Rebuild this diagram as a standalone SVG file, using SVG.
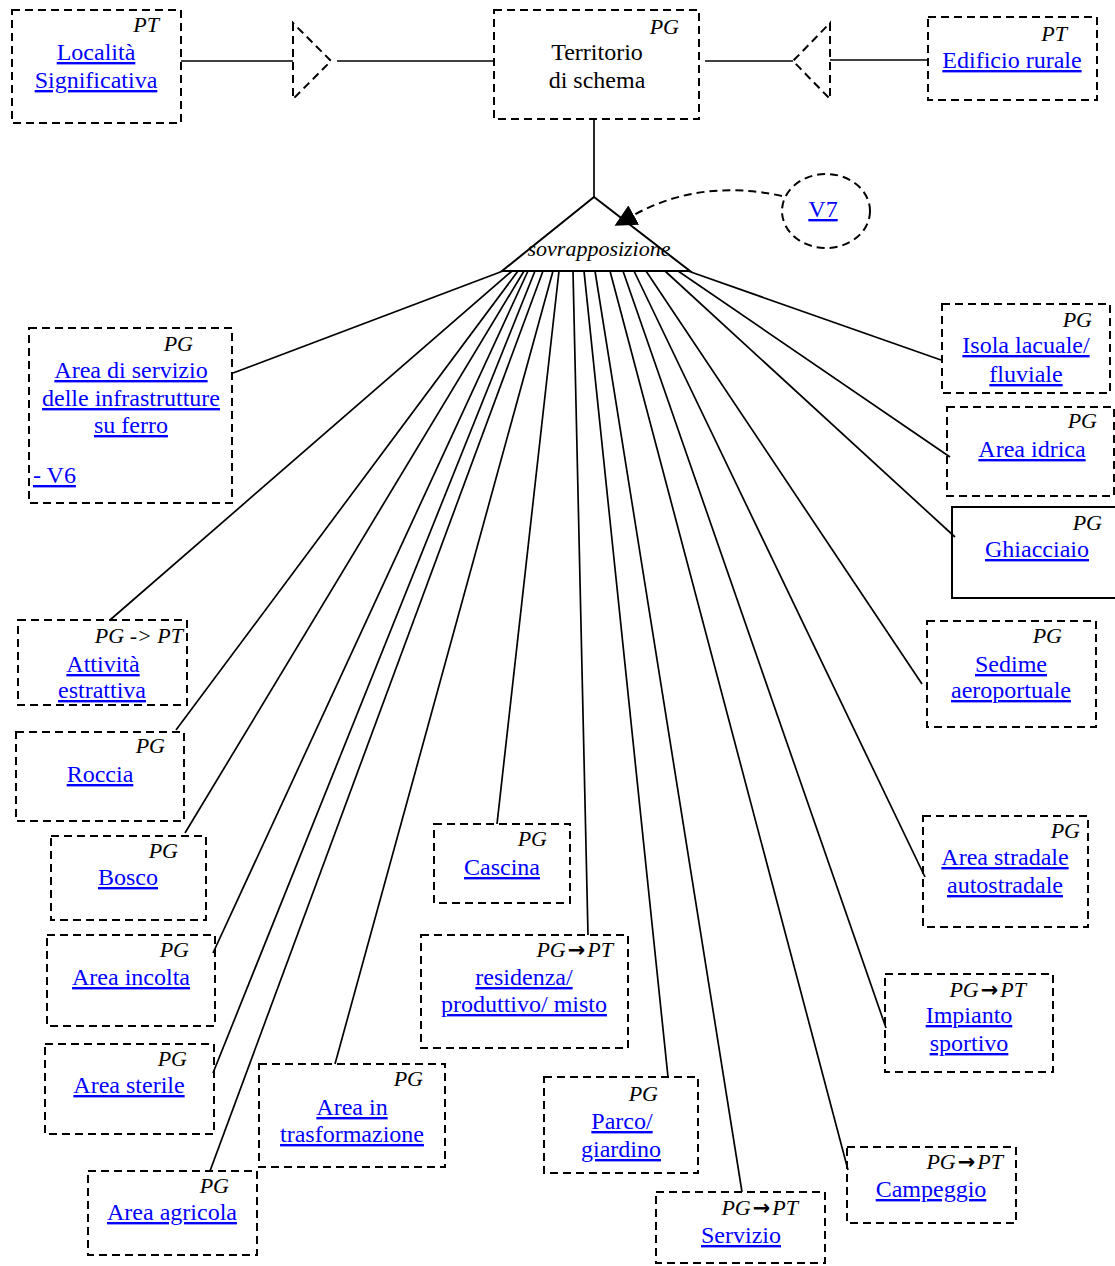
<svg xmlns="http://www.w3.org/2000/svg" width="1115" height="1266" viewBox="0 0 1115 1266">
  <style>
    .box { fill: none; stroke: #000; stroke-width: 2; stroke-dasharray: 8 5; }
    .solid { fill: none; stroke: #000; stroke-width: 2; }
    .edge { fill: none; stroke: #000; stroke-width: 1.7; }
    .dash { fill: none; stroke: #000; stroke-width: 2; stroke-dasharray: 8 5; }
    .lnk { font-family: "Liberation Serif", "Times New Roman", serif; font-size: 24px; fill: #0000ff; text-decoration: underline; text-anchor: middle; }
    .txt { font-family: "Liberation Serif", "Times New Roman", serif; font-size: 24px; fill: #000; text-anchor: middle; }
    .tag { font-family: "Liberation Serif", "Times New Roman", serif; font-size: 22px; font-style: italic; fill: #000; text-anchor: end; }
    .arr { font-family: "DejaVu Sans", sans-serif; font-style: normal; font-weight: bold; font-size: 21px; }
  </style>
  <defs>
    <marker id="head" markerUnits="userSpaceOnUse" markerWidth="24" markerHeight="22" refX="2" refY="11" orient="auto">
      <path d="M0,0 L22,11 L0,22 Z" fill="#000"/>
    </marker>
  </defs>
  <rect width="1115" height="1266" fill="#fff"/>

  <!-- connectors -->
  <g id="connectors">
    <path class="edge" d="M181,61 H293"/>
    <path class="dash" d="M293,23 V99 L331,61 Z"/>
    <path class="edge" d="M337,61 H494"/>
    <path class="edge" d="M705,61 H793"/>
    <path class="dash" d="M830,23 V99 L793,61 Z"/>
    <path class="edge" d="M830,60 H928"/>
    <path class="edge" d="M594,119 V197"/>
    <path class="solid" d="M594,197 L502,271 H690 Z"/>
    <text x="599" y="256" class="tag" style="text-anchor:middle">sovrapposizione</text>
    <path class="dash" d="M782,196 Q700,178 632,216" marker-end="url(#head)"/>
    <path class="edge" d="M233,373 L503,271"/>
    <path class="edge" d="M110,620 L512,271"/>
    <path class="edge" d="M176,730 L518,271"/>
    <path class="edge" d="M185,833 L524,271"/>
    <path class="edge" d="M213,953 L528,271"/>
    <path class="edge" d="M213,1073 L535,271"/>
    <path class="edge" d="M210,1171 L543,271"/>
    <path class="edge" d="M335,1064 L553,271"/>
    <path class="edge" d="M497,824 L559,271"/>
    <path class="edge" d="M588,935 L573,271"/>
    <path class="edge" d="M668,1077 L584,271"/>
    <path class="edge" d="M742,1192 L595,271"/>
    <path class="edge" d="M848,1170 L610,271"/>
    <path class="edge" d="M886,1028 L623,271"/>
    <path class="edge" d="M925,877 L634,271"/>
    <path class="edge" d="M922,684 L646,271"/>
    <path class="edge" d="M955,537 L665,271"/>
    <path class="edge" d="M950,457 L678,271"/>
    <path class="edge" d="M941,360 L688,271"/>
  </g>

  <!-- nodes -->
  <g id="n-localita">
    <rect class="box" x="12" y="10" width="169" height="113"/>
    <text class="tag" x="159" y="32">PT</text>
    <text class="lnk" x="96" y="60">Località</text>
    <text class="lnk" x="96" y="88">Significativa</text>
  </g>
  <g id="n-territorio">
    <rect class="box" x="494" y="10" width="205" height="109"/>
    <text class="tag" x="679" y="34">PG</text>
    <text class="txt" x="597" y="60">Territorio</text>
    <text class="txt" x="597" y="88">di schema</text>
  </g>
  <g id="n-edificio">
    <rect class="box" x="928" y="17" width="169" height="83"/>
    <text class="tag" x="1067" y="41">PT</text>
    <text class="lnk" x="1012" y="68">Edificio rurale</text>
  </g>
  <g id="n-v7">
    <ellipse class="dash" cx="826" cy="211" rx="44" ry="37"/>
    <text class="lnk" x="823" y="217">V7</text>
  </g>
  <g id="n-servizio-ferro">
    <rect class="box" x="29" y="328" width="203" height="175"/>
    <text class="tag" x="193" y="351">PG</text>
    <text class="lnk" x="131" y="378">Area di servizio</text>
    <text class="lnk" x="131" y="406">delle infrastrutture</text>
    <text class="lnk" x="131" y="433">su ferro</text>
    <text class="lnk" x="33" y="483" style="text-anchor:start">- V6</text>
  </g>
  <g id="n-isola">
    <rect class="box" x="942" y="304" width="168" height="89"/>
    <text class="tag" x="1092" y="327">PG</text>
    <text class="lnk" x="1026" y="353">Isola lacuale/</text>
    <text class="lnk" x="1026" y="382">fluviale</text>
  </g>
  <g id="n-idrica">
    <rect class="box" x="947" y="407" width="167" height="89"/>
    <text class="tag" x="1097" y="428">PG</text>
    <text class="lnk" x="1032" y="457">Area idrica</text>
  </g>
  <g id="n-ghiacciaio">
    <rect class="solid" x="952" y="507" width="172" height="91"/>
    <text class="tag" x="1102" y="530">PG</text>
    <text class="lnk" x="1037" y="557">Ghiacciaio</text>
  </g>
  <g id="n-sedime">
    <rect class="box" x="927" y="621" width="169" height="106"/>
    <text class="tag" x="1062" y="643">PG</text>
    <text class="lnk" x="1011" y="672">Sedime</text>
    <text class="lnk" x="1011" y="698">aeroportuale</text>
  </g>
  <g id="n-stradale">
    <rect class="box" x="923" y="816" width="165" height="111"/>
    <text class="tag" x="1080" y="838">PG</text>
    <text class="lnk" x="1005" y="865">Area stradale</text>
    <text class="lnk" x="1005" y="893">autostradale</text>
  </g>
  <g id="n-impianto">
    <rect class="box" x="885" y="974" width="168" height="98"/>
    <text class="tag" x="1026" y="997">PG<tspan class="arr" dx="2">→</tspan><tspan dx="2">PT</tspan></text>
    <text class="lnk" x="969" y="1023">Impianto</text>
    <text class="lnk" x="969" y="1051">sportivo</text>
  </g>
  <g id="n-campeggio">
    <rect class="box" x="847" y="1147" width="169" height="76"/>
    <text class="tag" x="1003" y="1169">PG<tspan class="arr" dx="2">→</tspan><tspan dx="2">PT</tspan></text>
    <text class="lnk" x="931" y="1197">Campeggio</text>
  </g>
  <g id="n-servizio">
    <rect class="box" x="656" y="1192" width="169" height="71"/>
    <text class="tag" x="798" y="1215">PG<tspan class="arr" dx="2">→</tspan><tspan dx="2">PT</tspan></text>
    <text class="lnk" x="741" y="1243">Servizio</text>
  </g>
  <g id="n-parco">
    <rect class="box" x="544" y="1077" width="154" height="96"/>
    <text class="tag" x="658" y="1101">PG</text>
    <text class="lnk" x="622" y="1129">Parco/</text>
    <text class="lnk" x="621" y="1157">giardino</text>
  </g>
  <g id="n-residenza">
    <rect class="box" x="421" y="935" width="207" height="113"/>
    <text class="tag" x="613" y="957">PG<tspan class="arr" dx="2">→</tspan><tspan dx="2">PT</tspan></text>
    <text class="lnk" x="524" y="985">residenza/</text>
    <text class="lnk" x="524" y="1012">produttivo/ misto</text>
  </g>
  <g id="n-cascina">
    <rect class="box" x="434" y="824" width="136" height="79"/>
    <text class="tag" x="547" y="846">PG</text>
    <text class="lnk" x="502" y="875">Cascina</text>
  </g>
  <g id="n-trasformazione">
    <rect class="box" x="259" y="1064" width="186" height="103"/>
    <text class="tag" x="423" y="1086">PG</text>
    <text class="lnk" x="352" y="1115">Area in</text>
    <text class="lnk" x="352" y="1142">trasformazione</text>
  </g>
  <g id="n-agricola">
    <rect class="box" x="88" y="1171" width="169" height="84"/>
    <text class="tag" x="229" y="1193">PG</text>
    <text class="lnk" x="172" y="1220">Area agricola</text>
  </g>
  <g id="n-sterile">
    <rect class="box" x="45" y="1044" width="169" height="90"/>
    <text class="tag" x="187" y="1066">PG</text>
    <text class="lnk" x="129" y="1093">Area sterile</text>
  </g>
  <g id="n-incolta">
    <rect class="box" x="47" y="935" width="168" height="91"/>
    <text class="tag" x="189" y="957">PG</text>
    <text class="lnk" x="131" y="985">Area incolta</text>
  </g>
  <g id="n-bosco">
    <rect class="box" x="51" y="836" width="155" height="84"/>
    <text class="tag" x="178" y="858">PG</text>
    <text class="lnk" x="128" y="885">Bosco</text>
  </g>
  <g id="n-roccia">
    <rect class="box" x="16" y="732" width="168" height="89"/>
    <text class="tag" x="165" y="753">PG</text>
    <text class="lnk" x="100" y="782">Roccia</text>
  </g>
  <g id="n-attivita">
    <rect class="box" x="18" y="620" width="169" height="85"/>
    <text class="tag" x="183" y="643">PG -&gt; PT</text>
    <text class="lnk" x="103" y="672">Attività</text>
    <text class="lnk" x="102" y="698">estrattiva</text>
  </g>
</svg>
